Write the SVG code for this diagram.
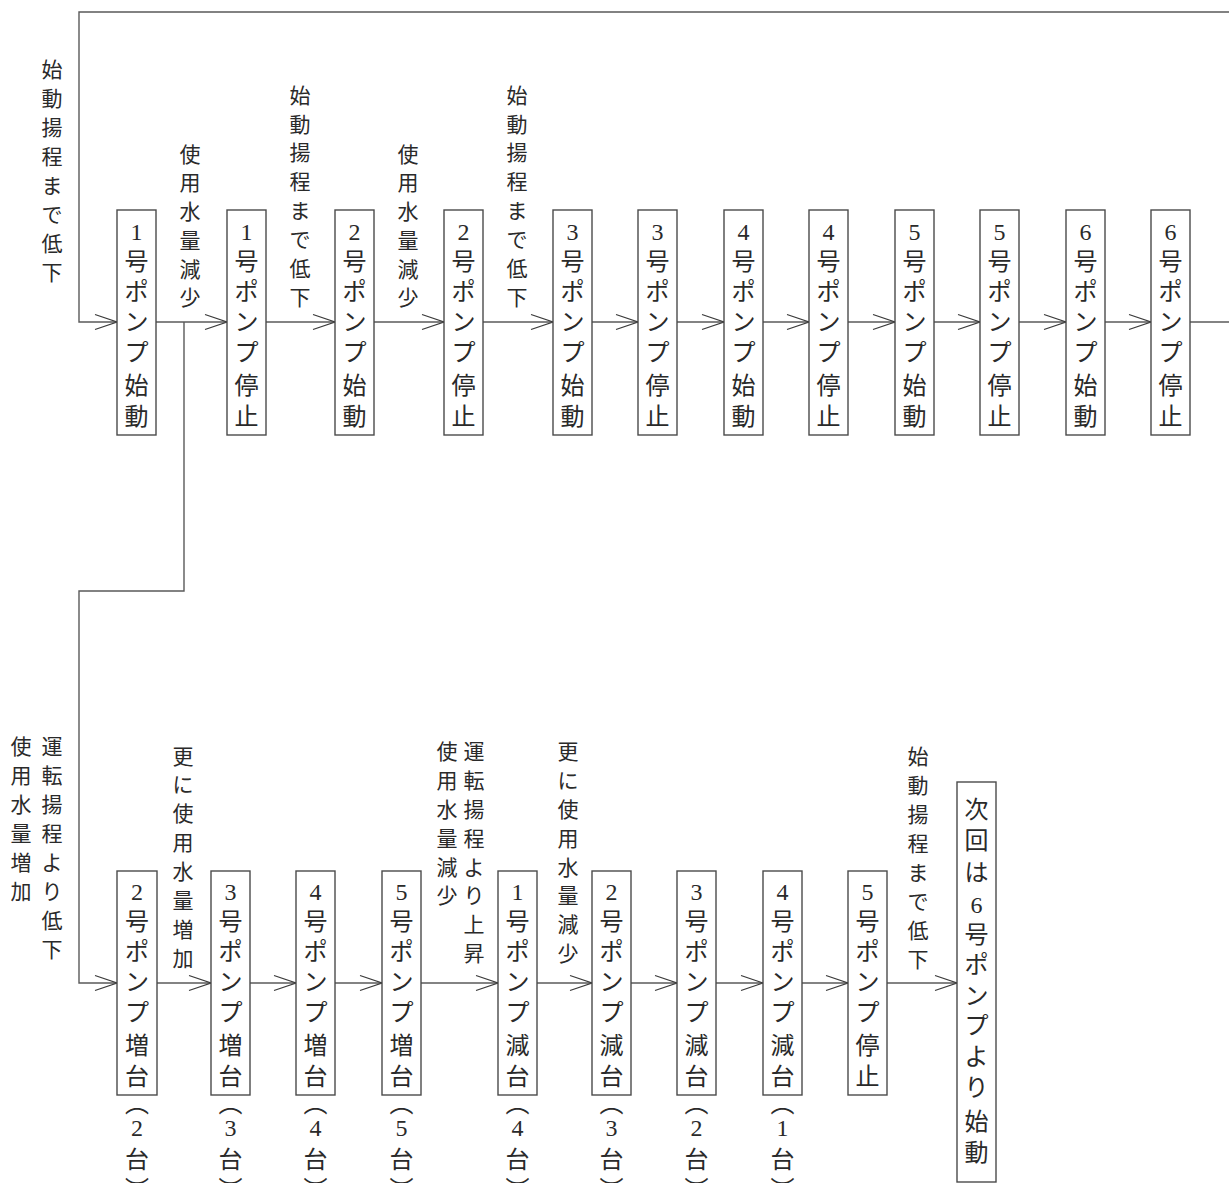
<svg xmlns="http://www.w3.org/2000/svg" width="1229" height="1183" viewBox="0 0 1229 1183">
<style>
  text { font-family: 'Liberation Serif', 'Noto Sans CJK JP', serif; fill: #2a2a2a; text-anchor: middle; dominant-baseline: central; }
  .bt { font-size: 24px; }
  .lb { font-size: 21px; }
  .box { fill: #fff; stroke: #4a4a4a; stroke-width: 1.4; }
  .ln { fill: none; stroke: #5a5a5a; stroke-width: 1.4; }
  .arr { fill: none; stroke: #3a3a3a; stroke-width: 1.3; }
</style>
<defs>
  <marker id="chev" markerUnits="userSpaceOnUse" viewBox="-24 -10 26 20" markerWidth="26" markerHeight="20" refX="0" refY="0" orient="auto" overflow="visible">
    <path class="arr" d="M-22,-7.5 L0,0 L-22,7.5"/>
  </marker>
</defs>

<g id="connectors">
  <path class="ln" d="M1229,12 H79 V322 H117" marker-end="url(#chev)"/>
  <path class="ln" d="M156,322 H227" marker-end="url(#chev)"/>
  <path class="ln" d="M266,322 H335" marker-end="url(#chev)"/>
  <path class="ln" d="M374,322 H444" marker-end="url(#chev)"/>
  <path class="ln" d="M483,322 H553" marker-end="url(#chev)"/>
  <path class="ln" d="M592,322 H638" marker-end="url(#chev)"/>
  <path class="ln" d="M677,322 H724" marker-end="url(#chev)"/>
  <path class="ln" d="M763,322 H809" marker-end="url(#chev)"/>
  <path class="ln" d="M848,322 H895" marker-end="url(#chev)"/>
  <path class="ln" d="M934,322 H980" marker-end="url(#chev)"/>
  <path class="ln" d="M1019,322 H1066" marker-end="url(#chev)"/>
  <path class="ln" d="M1105,322 H1151" marker-end="url(#chev)"/>
  <path class="ln" d="M1190,322 H1229"/>
  <path class="ln" d="M184,322 V591 H79 V983 H117" marker-end="url(#chev)"/>
  <path class="ln" d="M157,983 H211" marker-end="url(#chev)"/>
  <path class="ln" d="M250,983 H296" marker-end="url(#chev)"/>
  <path class="ln" d="M335,983 H382" marker-end="url(#chev)"/>
  <path class="ln" d="M421,983 H498" marker-end="url(#chev)"/>
  <path class="ln" d="M537,983 H592" marker-end="url(#chev)"/>
  <path class="ln" d="M631,983 H677" marker-end="url(#chev)"/>
  <path class="ln" d="M716,983 H763" marker-end="url(#chev)"/>
  <path class="ln" d="M802,983 H848" marker-end="url(#chev)"/>
  <path class="ln" d="M887,983 H957" marker-end="url(#chev)"/>
</g>

<g id="labels">
  <text class="lb"><tspan x="52" y="70">始</tspan><tspan x="52" y="99">動</tspan><tspan x="52" y="128">揚</tspan><tspan x="52" y="157">程</tspan><tspan x="52" y="186">ま</tspan><tspan x="52" y="215">で</tspan><tspan x="52" y="244">低</tspan><tspan x="52" y="273">下</tspan></text>
  <text class="lb"><tspan x="190" y="155">使</tspan><tspan x="190" y="183">用</tspan><tspan x="190" y="212">水</tspan><tspan x="190" y="241">量</tspan><tspan x="190" y="270">減</tspan><tspan x="190" y="298">少</tspan></text>
  <text class="lb"><tspan x="300" y="96">始</tspan><tspan x="300" y="125">動</tspan><tspan x="300" y="153">揚</tspan><tspan x="300" y="182">程</tspan><tspan x="300" y="211">ま</tspan><tspan x="300" y="240">で</tspan><tspan x="300" y="269">低</tspan><tspan x="300" y="298">下</tspan></text>
  <text class="lb"><tspan x="408" y="155">使</tspan><tspan x="408" y="183">用</tspan><tspan x="408" y="212">水</tspan><tspan x="408" y="241">量</tspan><tspan x="408" y="270">減</tspan><tspan x="408" y="298">少</tspan></text>
  <text class="lb"><tspan x="517" y="96">始</tspan><tspan x="517" y="125">動</tspan><tspan x="517" y="153">揚</tspan><tspan x="517" y="182">程</tspan><tspan x="517" y="211">ま</tspan><tspan x="517" y="240">で</tspan><tspan x="517" y="269">低</tspan><tspan x="517" y="298">下</tspan></text>

  <text class="lb"><tspan x="21" y="747">使</tspan><tspan x="21" y="776">用</tspan><tspan x="21" y="805">水</tspan><tspan x="21" y="834">量</tspan><tspan x="21" y="863">増</tspan><tspan x="21" y="892">加</tspan></text>
  <text class="lb"><tspan x="52" y="747">運</tspan><tspan x="52" y="776">転</tspan><tspan x="52" y="805">揚</tspan><tspan x="52" y="834">程</tspan><tspan x="52" y="863">よ</tspan><tspan x="52" y="892">り</tspan><tspan x="52" y="921">低</tspan><tspan x="52" y="950">下</tspan></text>
  <text class="lb"><tspan x="183" y="757">更</tspan><tspan x="183" y="785">に</tspan><tspan x="183" y="814">使</tspan><tspan x="183" y="843">用</tspan><tspan x="183" y="872">水</tspan><tspan x="183" y="901">量</tspan><tspan x="183" y="930">増</tspan><tspan x="183" y="959">加</tspan></text>
  <text class="lb"><tspan x="447" y="752">使</tspan><tspan x="447" y="781">用</tspan><tspan x="447" y="810">水</tspan><tspan x="447" y="839">量</tspan><tspan x="447" y="868">減</tspan><tspan x="447" y="896">少</tspan></text>
  <text class="lb"><tspan x="474" y="752">運</tspan><tspan x="474" y="781">転</tspan><tspan x="474" y="810">揚</tspan><tspan x="474" y="839">程</tspan><tspan x="474" y="868">よ</tspan><tspan x="474" y="896">り</tspan><tspan x="474" y="925">上</tspan><tspan x="474" y="954">昇</tspan></text>
  <text class="lb"><tspan x="568" y="752">更</tspan><tspan x="568" y="781">に</tspan><tspan x="568" y="810">使</tspan><tspan x="568" y="839">用</tspan><tspan x="568" y="868">水</tspan><tspan x="568" y="896">量</tspan><tspan x="568" y="925">減</tspan><tspan x="568" y="954">少</tspan></text>
  <text class="lb"><tspan x="918" y="757">始</tspan><tspan x="918" y="786">動</tspan><tspan x="918" y="815">揚</tspan><tspan x="918" y="844">程</tspan><tspan x="918" y="873">ま</tspan><tspan x="918" y="902">で</tspan><tspan x="918" y="931">低</tspan><tspan x="918" y="960">下</tspan></text>
</g>

<g id="n1"><rect class="box" x="117" y="210" width="39" height="225"/><text class="bt"><tspan x="136.5" y="232">1</tspan><tspan x="136.5" y="262">号</tspan><tspan x="136.5" y="292">ポ</tspan><tspan x="136.5" y="322">ン</tspan><tspan x="136.5" y="353">プ</tspan><tspan x="136.5" y="386">始</tspan><tspan x="136.5" y="417">動</tspan></text></g>
<g id="n2"><rect class="box" x="227" y="210" width="39" height="225"/><text class="bt"><tspan x="246.5" y="232">1</tspan><tspan x="246.5" y="262">号</tspan><tspan x="246.5" y="292">ポ</tspan><tspan x="246.5" y="322">ン</tspan><tspan x="246.5" y="353">プ</tspan><tspan x="246.5" y="386">停</tspan><tspan x="246.5" y="417">止</tspan></text></g>
<g id="n3"><rect class="box" x="335" y="210" width="39" height="225"/><text class="bt"><tspan x="354.5" y="232">2</tspan><tspan x="354.5" y="262">号</tspan><tspan x="354.5" y="292">ポ</tspan><tspan x="354.5" y="322">ン</tspan><tspan x="354.5" y="353">プ</tspan><tspan x="354.5" y="386">始</tspan><tspan x="354.5" y="417">動</tspan></text></g>
<g id="n4"><rect class="box" x="444" y="210" width="39" height="225"/><text class="bt"><tspan x="463.5" y="232">2</tspan><tspan x="463.5" y="262">号</tspan><tspan x="463.5" y="292">ポ</tspan><tspan x="463.5" y="322">ン</tspan><tspan x="463.5" y="353">プ</tspan><tspan x="463.5" y="386">停</tspan><tspan x="463.5" y="417">止</tspan></text></g>
<g id="n5"><rect class="box" x="553" y="210" width="39" height="225"/><text class="bt"><tspan x="572.5" y="232">3</tspan><tspan x="572.5" y="262">号</tspan><tspan x="572.5" y="292">ポ</tspan><tspan x="572.5" y="322">ン</tspan><tspan x="572.5" y="353">プ</tspan><tspan x="572.5" y="386">始</tspan><tspan x="572.5" y="417">動</tspan></text></g>
<g id="n6"><rect class="box" x="638" y="210" width="39" height="225"/><text class="bt"><tspan x="657.5" y="232">3</tspan><tspan x="657.5" y="262">号</tspan><tspan x="657.5" y="292">ポ</tspan><tspan x="657.5" y="322">ン</tspan><tspan x="657.5" y="353">プ</tspan><tspan x="657.5" y="386">停</tspan><tspan x="657.5" y="417">止</tspan></text></g>
<g id="n7"><rect class="box" x="724" y="210" width="39" height="225"/><text class="bt"><tspan x="743.5" y="232">4</tspan><tspan x="743.5" y="262">号</tspan><tspan x="743.5" y="292">ポ</tspan><tspan x="743.5" y="322">ン</tspan><tspan x="743.5" y="353">プ</tspan><tspan x="743.5" y="386">始</tspan><tspan x="743.5" y="417">動</tspan></text></g>
<g id="n8"><rect class="box" x="809" y="210" width="39" height="225"/><text class="bt"><tspan x="828.5" y="232">4</tspan><tspan x="828.5" y="262">号</tspan><tspan x="828.5" y="292">ポ</tspan><tspan x="828.5" y="322">ン</tspan><tspan x="828.5" y="353">プ</tspan><tspan x="828.5" y="386">停</tspan><tspan x="828.5" y="417">止</tspan></text></g>
<g id="n9"><rect class="box" x="895" y="210" width="39" height="225"/><text class="bt"><tspan x="914.5" y="232">5</tspan><tspan x="914.5" y="262">号</tspan><tspan x="914.5" y="292">ポ</tspan><tspan x="914.5" y="322">ン</tspan><tspan x="914.5" y="353">プ</tspan><tspan x="914.5" y="386">始</tspan><tspan x="914.5" y="417">動</tspan></text></g>
<g id="n10"><rect class="box" x="980" y="210" width="39" height="225"/><text class="bt"><tspan x="999.5" y="232">5</tspan><tspan x="999.5" y="262">号</tspan><tspan x="999.5" y="292">ポ</tspan><tspan x="999.5" y="322">ン</tspan><tspan x="999.5" y="353">プ</tspan><tspan x="999.5" y="386">停</tspan><tspan x="999.5" y="417">止</tspan></text></g>
<g id="n11"><rect class="box" x="1066" y="210" width="39" height="225"/><text class="bt"><tspan x="1085.5" y="232">6</tspan><tspan x="1085.5" y="262">号</tspan><tspan x="1085.5" y="292">ポ</tspan><tspan x="1085.5" y="322">ン</tspan><tspan x="1085.5" y="353">プ</tspan><tspan x="1085.5" y="386">始</tspan><tspan x="1085.5" y="417">動</tspan></text></g>
<g id="n12"><rect class="box" x="1151" y="210" width="39" height="225"/><text class="bt"><tspan x="1170.5" y="232">6</tspan><tspan x="1170.5" y="262">号</tspan><tspan x="1170.5" y="292">ポ</tspan><tspan x="1170.5" y="322">ン</tspan><tspan x="1170.5" y="353">プ</tspan><tspan x="1170.5" y="386">停</tspan><tspan x="1170.5" y="417">止</tspan></text></g>

<g id="b1"><rect class="box" x="117" y="871" width="40" height="224"/><text class="bt"><tspan x="137" y="892">2</tspan><tspan x="137" y="922">号</tspan><tspan x="137" y="952">ポ</tspan><tspan x="137" y="982">ン</tspan><tspan x="137" y="1013">プ</tspan><tspan x="137" y="1046">増</tspan><tspan x="137" y="1077">台</tspan></text><text class="bt"><tspan x="137" y="1104">︵</tspan><tspan x="137" y="1128">2</tspan><tspan x="137" y="1160">台</tspan><tspan x="137" y="1190">︶</tspan></text></g>
<g id="b2"><rect class="box" x="211" y="871" width="39" height="224"/><text class="bt"><tspan x="230.5" y="892">3</tspan><tspan x="230.5" y="922">号</tspan><tspan x="230.5" y="952">ポ</tspan><tspan x="230.5" y="982">ン</tspan><tspan x="230.5" y="1013">プ</tspan><tspan x="230.5" y="1046">増</tspan><tspan x="230.5" y="1077">台</tspan></text><text class="bt"><tspan x="230.5" y="1104">︵</tspan><tspan x="230.5" y="1128">3</tspan><tspan x="230.5" y="1160">台</tspan><tspan x="230.5" y="1190">︶</tspan></text></g>
<g id="b3"><rect class="box" x="296" y="871" width="39" height="224"/><text class="bt"><tspan x="315.5" y="892">4</tspan><tspan x="315.5" y="922">号</tspan><tspan x="315.5" y="952">ポ</tspan><tspan x="315.5" y="982">ン</tspan><tspan x="315.5" y="1013">プ</tspan><tspan x="315.5" y="1046">増</tspan><tspan x="315.5" y="1077">台</tspan></text><text class="bt"><tspan x="315.5" y="1104">︵</tspan><tspan x="315.5" y="1128">4</tspan><tspan x="315.5" y="1160">台</tspan><tspan x="315.5" y="1190">︶</tspan></text></g>
<g id="b4"><rect class="box" x="382" y="871" width="39" height="224"/><text class="bt"><tspan x="401.5" y="892">5</tspan><tspan x="401.5" y="922">号</tspan><tspan x="401.5" y="952">ポ</tspan><tspan x="401.5" y="982">ン</tspan><tspan x="401.5" y="1013">プ</tspan><tspan x="401.5" y="1046">増</tspan><tspan x="401.5" y="1077">台</tspan></text><text class="bt"><tspan x="401.5" y="1104">︵</tspan><tspan x="401.5" y="1128">5</tspan><tspan x="401.5" y="1160">台</tspan><tspan x="401.5" y="1190">︶</tspan></text></g>
<g id="b5"><rect class="box" x="498" y="871" width="39" height="224"/><text class="bt"><tspan x="517.5" y="892">1</tspan><tspan x="517.5" y="922">号</tspan><tspan x="517.5" y="952">ポ</tspan><tspan x="517.5" y="982">ン</tspan><tspan x="517.5" y="1013">プ</tspan><tspan x="517.5" y="1046">減</tspan><tspan x="517.5" y="1077">台</tspan></text><text class="bt"><tspan x="517.5" y="1104">︵</tspan><tspan x="517.5" y="1128">4</tspan><tspan x="517.5" y="1160">台</tspan><tspan x="517.5" y="1190">︶</tspan></text></g>
<g id="b6"><rect class="box" x="592" y="871" width="39" height="224"/><text class="bt"><tspan x="611.5" y="892">2</tspan><tspan x="611.5" y="922">号</tspan><tspan x="611.5" y="952">ポ</tspan><tspan x="611.5" y="982">ン</tspan><tspan x="611.5" y="1013">プ</tspan><tspan x="611.5" y="1046">減</tspan><tspan x="611.5" y="1077">台</tspan></text><text class="bt"><tspan x="611.5" y="1104">︵</tspan><tspan x="611.5" y="1128">3</tspan><tspan x="611.5" y="1160">台</tspan><tspan x="611.5" y="1190">︶</tspan></text></g>
<g id="b7"><rect class="box" x="677" y="871" width="39" height="224"/><text class="bt"><tspan x="696.5" y="892">3</tspan><tspan x="696.5" y="922">号</tspan><tspan x="696.5" y="952">ポ</tspan><tspan x="696.5" y="982">ン</tspan><tspan x="696.5" y="1013">プ</tspan><tspan x="696.5" y="1046">減</tspan><tspan x="696.5" y="1077">台</tspan></text><text class="bt"><tspan x="696.5" y="1104">︵</tspan><tspan x="696.5" y="1128">2</tspan><tspan x="696.5" y="1160">台</tspan><tspan x="696.5" y="1190">︶</tspan></text></g>
<g id="b8"><rect class="box" x="763" y="871" width="39" height="224"/><text class="bt"><tspan x="782.5" y="892">4</tspan><tspan x="782.5" y="922">号</tspan><tspan x="782.5" y="952">ポ</tspan><tspan x="782.5" y="982">ン</tspan><tspan x="782.5" y="1013">プ</tspan><tspan x="782.5" y="1046">減</tspan><tspan x="782.5" y="1077">台</tspan></text><text class="bt"><tspan x="782.5" y="1104">︵</tspan><tspan x="782.5" y="1128">1</tspan><tspan x="782.5" y="1160">台</tspan><tspan x="782.5" y="1190">︶</tspan></text></g>
<g id="b9"><rect class="box" x="848" y="871" width="39" height="224"/><text class="bt"><tspan x="867.5" y="892">5</tspan><tspan x="867.5" y="922">号</tspan><tspan x="867.5" y="952">ポ</tspan><tspan x="867.5" y="982">ン</tspan><tspan x="867.5" y="1013">プ</tspan><tspan x="867.5" y="1046">停</tspan><tspan x="867.5" y="1077">止</tspan></text></g>
<g id="b10"><rect class="box" x="957" y="782" width="39" height="400"/><text class="bt"><tspan x="976.5" y="810">次</tspan><tspan x="976.5" y="841">回</tspan><tspan x="976.5" y="873">は</tspan><tspan x="976.5" y="905">6</tspan><tspan x="976.5" y="935">号</tspan><tspan x="976.5" y="965">ポ</tspan><tspan x="976.5" y="996">ン</tspan><tspan x="976.5" y="1026">プ</tspan><tspan x="976.5" y="1057">よ</tspan><tspan x="976.5" y="1088">り</tspan><tspan x="976.5" y="1122">始</tspan><tspan x="976.5" y="1153">動</tspan></text></g>
</svg>
